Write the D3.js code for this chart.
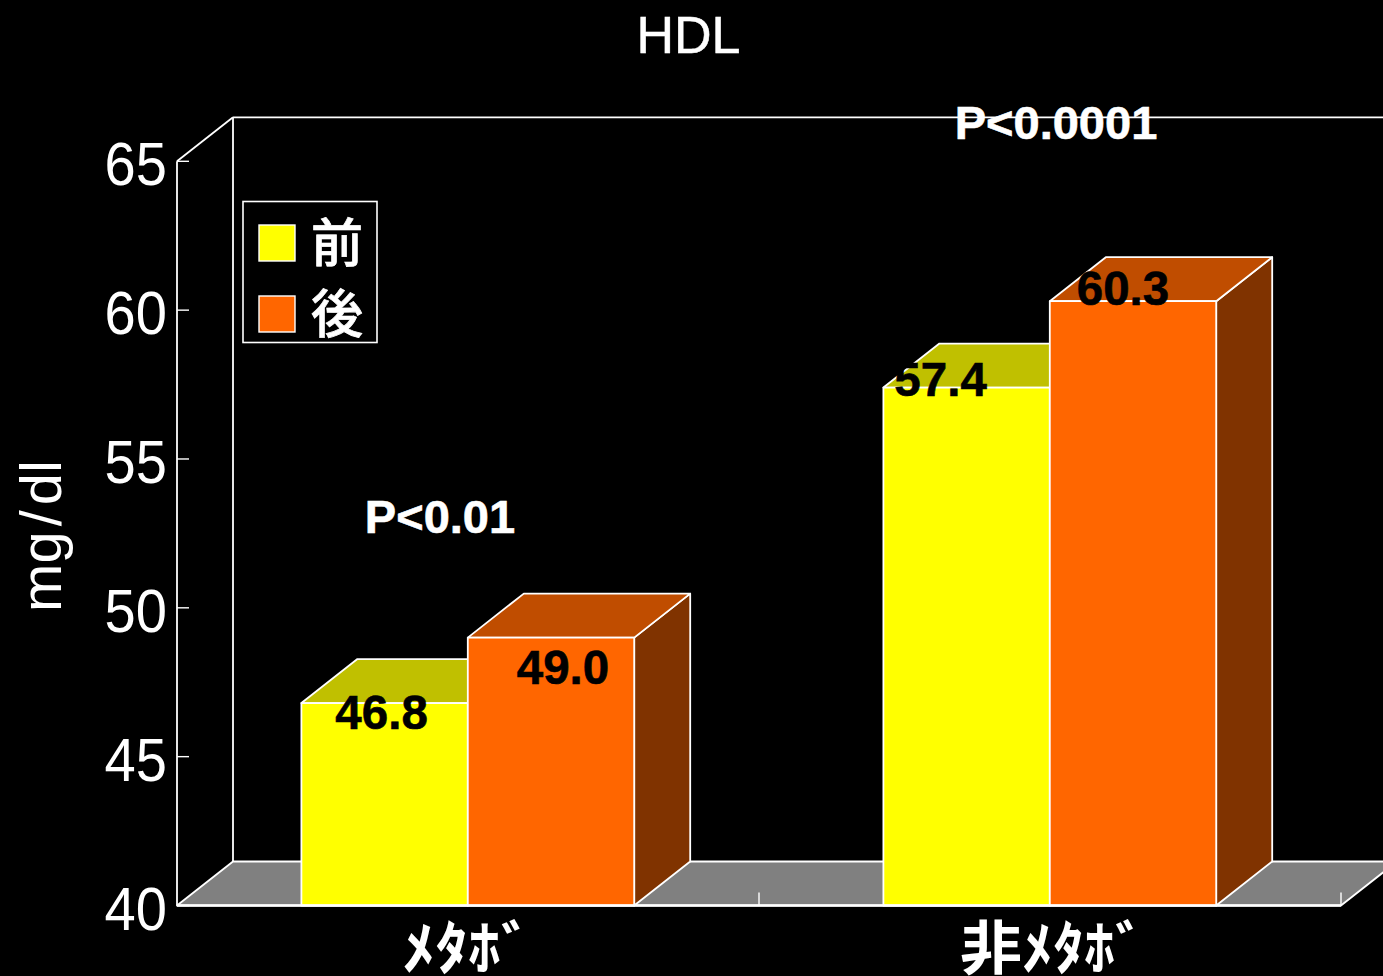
<!DOCTYPE html>
<html><head><meta charset="utf-8">
<script src="https://cdn.jsdelivr.net/npm/d3@7/dist/d3.min.js"></script>
<style>html,body{margin:0;padding:0;background:#000;overflow:hidden}svg{display:block}
text{font-family:"Liberation Sans",Arial,sans-serif;fill:#fff}
.jp{font-family:"Noto Sans CJK JP",sans-serif}</style></head><body>
<svg id="c" width="1383" height="976"></svg>
<script>
const categories = ["ﾒﾀﾎﾞ", "非ﾒﾀﾎﾞ"];
const seriesNames = ["前", "後"];
const before = [46.8, 57.4];
const after = [49.0, 60.3];
const yTicks = [40, 45, 50, 55, 60, 65];
const pLabels = ["P<0.01", "P<0.0001"];
const title = "HDL";
const yTitle = ["mg", "/", "dl"];

const svg = d3.select("#c");
const W = "#fff", LW = 1.8;
const x0 = d3.scaleBand().domain(categories).range([177, 1341]);
const x1 = d3.scaleBand().domain(seriesNames).range([124.4, 457.2]);
const y = d3.scaleLinear().domain([40, 65]).range([905.5, 161.3]);
const dx = 56, dy = -44;
const poly = (pts, fill) => svg.append("polygon").attr("points", pts.map(p => p.join(",")).join(" "))
  .attr("fill", fill).attr("stroke", W).attr("stroke-width", LW).attr("stroke-linejoin", "round");
const line = (a, b, c, d, w = LW) => svg.append("line").attr("x1", a).attr("y1", b).attr("x2", c).attr("y2", d).attr("stroke", W).attr("stroke-width", w);

const [L, R] = x0.range(), B = y(40), T = y(65);
poly([[L, B], [L + dx, B + dy], [R + dx, B + dy], [R, B]], "#808080");
line(L + dx, B + dy, L + dx, T + dy);
line(L + dx, T + dy, R + dx, T + dy);
line(L, T, L + dx, T + dy);
line(L, T, L, B);
yTicks.forEach(t => line(L, y(t), L + 12, y(t), 1.4));
categories.forEach(c => { const px = x0(c) + x0.bandwidth(); line(px, B, px, B - 13, 1.4); });

const series = [
  {name: seriesNames[0], values: before, front: "#ffff00", top: "#c0c000", side: "#808000"},
  {name: seriesNames[1], values: after, front: "#ff6600", top: "#c04d00", side: "#803300"}
];
series.forEach(s => {
  s.values.forEach((v, i) => {
    const a = x0(categories[i]) + x1(s.name), b = a + x1.bandwidth(), t = y(v);
    poly([[b, B], [b + dx, B + dy], [b + dx, t + dy], [b, t]], s.side);
    poly([[a, t], [a + dx, t + dy], [b + dx, t + dy], [b, t]], s.top);
    poly([[a, B], [a, t], [b, t], [b, B]], s.front);
  });
});
line(L, B, R, B, 2.4);

svg.selectAll(".yl").data(yTicks).join("text").attr("class", "yl")
  .attr("text-anchor", "end").attr("font-size", 61)
  .attr("transform", d => `translate(167,${y(d) + 24}) scale(0.92,1)`)
  .text(d => d);

svg.append("text").attr("x", 688.5).attr("y", 53).attr("text-anchor", "middle").attr("font-size", 52)
  .attr("stroke", "#fff").attr("stroke-width", 0.5).text(title);

const yt = svg.append("text").attr("transform", "translate(61,536) rotate(-90)").attr("text-anchor", "middle")
  .attr("font-size", 58);
yTitle.forEach((s, i) => yt.append("tspan").attr("dx", i ? 5 : 0).text(s));

svg.selectAll(".cat").data(categories).join("text").attr("class", "jp cat")
  .attr("text-anchor", "middle").attr("font-size", 58).attr("font-weight", 700)
  .attr("transform", (d, i) => `translate(${x0(d) + x0.bandwidth() / 2 + [0, 3][i]},969) scale(${[1.13, 1.07][i]},1)`)
  .text(d => d);

const labelOffset = [[-3, 26], [12, 46], [-26, 8], [-10, 4]];
series.flatMap(s => s.values.map((v, i) => ({v, cx: x0(categories[i]) + x1(s.name) + x1.bandwidth() / 2}))).sort((p, q) => p.cx - q.cx)
  .forEach((d, i) => {
    svg.append("text").attr("x", d.cx + labelOffset[i][0]).attr("y", y(d.v) + labelOffset[i][1])
      .attr("text-anchor", "middle").attr("font-size", 47.5).attr("font-weight", "bold").style("fill", "#000")
      .attr("stroke", "#000").attr("stroke-width", 0.6)
      .text(d.v.toFixed(1));
  });

pLabels.forEach((p, i) => {
  svg.append("text").attr("x", [440, 1056][i]).attr("y", [533, 139][i])
    .attr("text-anchor", "middle").attr("font-size", 47).attr("font-weight", "bold")
    .attr("stroke", "#fff").attr("stroke-width", 0.6).text(p);
});

const lg = svg.append("g");
lg.append("rect").attr("x", 243).attr("y", 201.5).attr("width", 134).attr("height", 141)
  .attr("fill", "#000").attr("stroke", W).attr("stroke-width", 1.6);
series.forEach((s, i) => {
  lg.append("rect").attr("x", 259).attr("y", 225 + 71 * i).attr("width", 36).attr("height", 36)
    .attr("fill", s.front).attr("stroke", W).attr("stroke-width", 1.4);
  lg.append("text").attr("class", "jp").attr("x", 337).attr("y", 262 + 71 * i)
    .attr("text-anchor", "middle").attr("font-size", 52).attr("font-weight", 500)
    .attr("stroke", "#fff").attr("stroke-width", 0.7).text(s.name);
});
</script></body></html>
